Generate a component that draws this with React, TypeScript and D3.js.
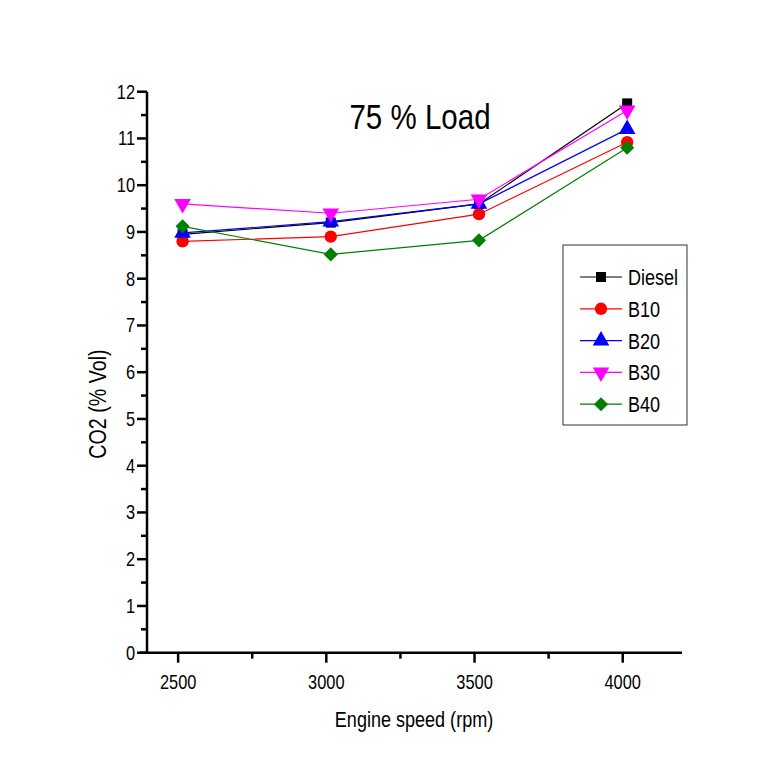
import React, { useEffect, useRef } from 'react';
import * as d3 from 'd3';

// engine speeds (rpm) as placed in the picture
const speeds = [2515, 3015, 3515, 4015];
const seriesNames = ['Diesel', 'B10', 'B20', 'B30', 'B40'];
const diesel = [8.95, 9.2, 9.6, 11.75];
const b10 = [8.8, 8.9, 9.38, 10.92];
const b20 = [8.98, 9.22, 9.6, 11.2];
const b30 = [9.6, 9.4, 9.7, 11.6];
const b40 = [9.12, 8.52, 8.82, 10.8];
const xTicks = [2500, 3000, 3500, 4000];
const yTicks = [0, 1, 2, 3, 4, 5, 6, 7, 8, 9, 10, 11, 12];

const colors = ['#000000', '#ff0000', '#0000ff', '#ff00ff', '#008000'];
const shapes = [d3.symbolSquare, d3.symbolCircle, d3.symbolTriangle, d3.symbolTriangle, d3.symbolSquare];
const sizes = [100, 120, 120, 120, 100];
const turns = [0, 0, 0, 180, 45];

const App = () => {
  const ref = useRef<SVGSVGElement>(null);

  useEffect(() => {
    const svg = d3.select(ref.current);
    svg.selectAll('*').remove();

    const width = 773;
    const height = 779;
    const left = 147;
    const right = 682;
    const top = 91.7;
    const bottom = 652.7;
    const font = 'Arial, "Liberation Sans", sans-serif';
    const squeeze = 0.82;

    svg.append('rect').attr('width', width).attr('height', height).attr('fill', '#fff');

    const x = d3.scaleLinear().domain([2395, 4200]).range([left, right]);
    const y = d3.scaleLinear().domain([0, 12]).range([bottom, top]);

    // squeezed text like the original (narrow font)
    const label = (tx: number, ty: number, str: string, size: number, anchor: string, rotate = 0) =>
      svg
        .append('text')
        .attr('transform', `translate(${tx},${ty}) rotate(${rotate}) scale(${squeeze},1)`)
        .attr('text-anchor', anchor)
        .attr('font-family', font)
        .attr('font-size', size)
        .attr('fill', '#000')
        .text(str);

    // axes
    const gx = svg.append('g').attr('transform', `translate(0,${bottom})`);
    gx.append('line').attr('x1', left - 7).attr('x2', right).attr('stroke', '#000').attr('stroke-width', 2.5);
    xTicks.forEach((t) => {
      gx.append('line').attr('x1', x(t)).attr('x2', x(t)).attr('y1', 0).attr('y2', 10).attr('stroke', '#000').attr('stroke-width', 2.5);
      label(x(t), bottom + 36, String(t), 20, 'middle');
    });
    [2750, 3250, 3750].forEach((t) => {
      gx.append('line').attr('x1', x(t)).attr('x2', x(t)).attr('y1', 0).attr('y2', 6).attr('stroke', '#000').attr('stroke-width', 2.5);
    });

    const gy = svg.append('g').attr('transform', `translate(${left},0)`);
    gy.append('line').attr('y1', top).attr('y2', bottom + 1).attr('stroke', '#000').attr('stroke-width', 2.5);
    yTicks.forEach((t) => {
      gy.append('line').attr('x1', -10).attr('x2', 0).attr('y1', y(t)).attr('y2', y(t)).attr('stroke', '#000').attr('stroke-width', 2.5);
      label(left - 12, y(t) + 7, String(t), 20, 'end');
      if (t < 12) {
        gy.append('line').attr('x1', -6).attr('x2', 0).attr('y1', y(t + 0.5)).attr('y2', y(t + 0.5)).attr('stroke', '#000').attr('stroke-width', 2.5);
      }
    });

    label(414, 727, 'Engine speed (rpm)', 22, 'middle');
    label(106, 404, 'CO2 (% Vol)', 24, 'middle', -90);
    label(420, 129, '75 % Load', 36, 'middle');

    // series
    const allSeries = [diesel, b10, b20, b30, b40];
    const line = d3
      .line<number>()
      .x((_, i) => x(speeds[i]))
      .y((d) => y(d));

    allSeries.forEach((vals, s) => {
      svg.append('path').attr('d', line(vals)).attr('fill', 'none').attr('stroke', colors[s]).attr('stroke-width', 1.2);
    });
    allSeries.forEach((vals, s) => {
      const sym = d3.symbol().type(shapes[s]).size(sizes[s]);
      svg
        .selectAll(`.m${s}`)
        .data(vals)
        .enter()
        .append('path')
        .attr('d', sym)
        .attr('transform', (d, i) => `translate(${x(speeds[i])},${y(d)}) rotate(${turns[s]})`)
        .attr('fill', colors[s]);
    });

    // legend
    const lg = svg.append('g');
    lg.append('rect').attr('x', 563).attr('y', 245).attr('width', 124).attr('height', 180).attr('fill', '#fff').attr('stroke', '#333').attr('stroke-width', 1);
    seriesNames.forEach((name, s) => {
      const ly = 277 + s * 31.8;
      lg.append('line').attr('x1', 580).attr('x2', 622).attr('y1', ly).attr('y2', ly).attr('stroke', colors[s]).attr('stroke-width', 1.2);
      lg.append('path')
        .attr('d', d3.symbol().type(shapes[s]).size(sizes[s])())
        .attr('transform', `translate(601,${ly}) rotate(${turns[s]})`)
        .attr('fill', colors[s]);
      label(628, ly + 8, name, 22, 'start');
    });
  }, []);

  return (
    <div>
      <svg ref={ref} width={773} height={779} style={{ position: 'absolute', left: 0, top: 0 }} />
    </div>
  );
};

export default App;
